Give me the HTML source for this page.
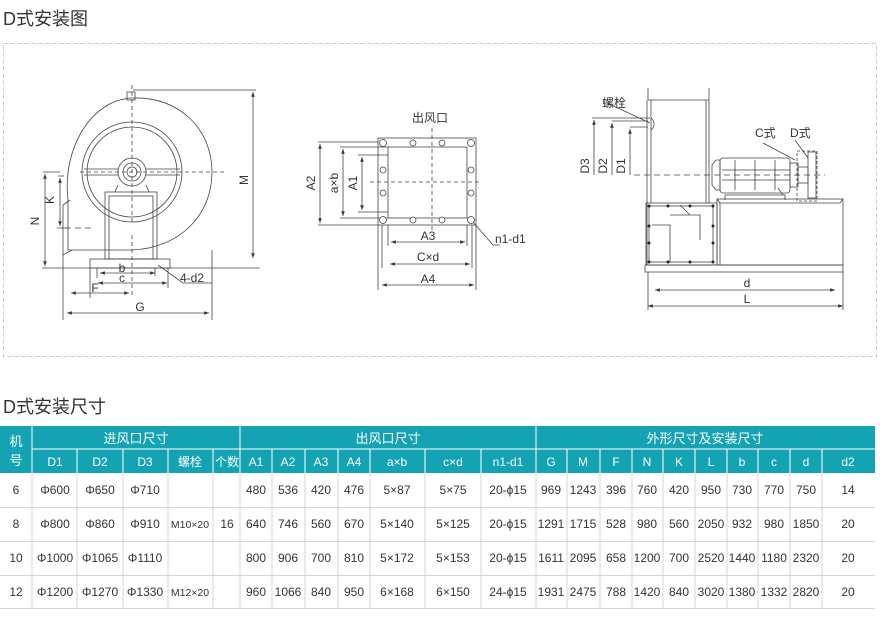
<!DOCTYPE html>
<html><head><meta charset="utf-8"><style>
html,body{margin:0;padding:0;background:#fff;}
svg{display:block;font-family:"Liberation Sans","Noto Sans CJK SC",sans-serif;}
</style></head><body>
<svg width="880" height="621" viewBox="0 0 880 621" xmlns="http://www.w3.org/2000/svg">
<defs>
<marker id="a" viewBox="0 0 8 6" refX="8" refY="3" markerWidth="6" markerHeight="5" orient="auto-start-reverse"><path d="M0,0L8,3L0,6z" fill="#333"/></marker>
</defs>
<text x="3" y="25" font-size="18" fill="#333">D式安装图</text>
<rect x="3.5" y="43.5" width="873" height="313" fill="none" stroke="#c8c8c8" stroke-dasharray="4,3"/>

<g stroke="#444" fill="none" stroke-width="0.8">
<!-- FAN front view -->
<path d="M68,250 L68,200 C62,150 90,100 132,98 C180,96 212,130 212,172 C212,215 180,248 132,250 Z"/>
<path d="M63,255 L63,205 L70,200 M63,255 L72,250"/>
<circle cx="132" cy="172" r="50"/>
<circle cx="132" cy="172" r="45"/>
<circle cx="132" cy="172" r="14"/>
<circle cx="132" cy="172" r="9"/>
<circle cx="132" cy="172" r="5"/>
<path d="M84,169 H118 M84,175 H118 M146,169 H180 M146,175 H180"/>
<path d="M118,185 L115,192 M146,185 L149,192"/>
<rect x="105" y="192" width="52" height="67"/>
<rect x="109" y="196" width="44" height="63"/>
<rect x="127" y="92" width="8" height="8"/>
<rect x="90" y="259" width="80" height="9"/>
<path d="M42,268 H260"/>
<path d="M132,85 V225 M132,235 V298" stroke-dasharray="4,3"/>
<path d="M80,172 H225" stroke-dasharray="4,3"/>
<path d="M65,228 H92" stroke-dasharray="6,4"/>
<path d="M133,90 H256 M43,172 H60 M58,176 H64 M57,228 H68"/>
<path d="M253,92 V258" marker-start="url(#a)" marker-end="url(#a)"/>
<path d="M45,174 V266" marker-start="url(#a)" marker-end="url(#a)"/>
<path d="M60,178 V226" marker-start="url(#a)" marker-end="url(#a)"/>
<path d="M97,268 V278 M155,268 V276 M168,268 V288 M90,268 V298 M63,255 V320 M212,250 V320"/>
<path d="M100,273 H155" marker-start="url(#a)" marker-end="url(#a)"/>
<path d="M98,283 H167" marker-start="url(#a)" marker-end="url(#a)"/>
<path d="M71,293 H129" marker-start="url(#a)" marker-end="url(#a)"/>
<path d="M67,313 H209" marker-start="url(#a)" marker-end="url(#a)"/>
<path d="M158,265 L183,283 H212"/>

<!-- OUTLET -->
<rect x="378" y="138" width="98" height="87"/>
<rect x="388" y="147" width="79" height="71"/>
<path d="M432,128 V232 M370,182 H480" stroke-dasharray="4,3"/>
<path d="M318,142 H378 M340,147 H388 M358,155 H388 M318,225 H378 M340,218 H388 M358,212 H388"/>
<path d="M320,144 V223" marker-start="url(#a)" marker-end="url(#a)"/>
<path d="M343,149 V216" marker-start="url(#a)" marker-end="url(#a)"/>
<path d="M362,157 V210" marker-start="url(#a)" marker-end="url(#a)"/>
<path d="M378,225 V290 M476,225 V290 M388,225 V246 M467,225 V246 M382,225 V268 M472,225 V268"/>
<path d="M391,242 H465" marker-start="url(#a)" marker-end="url(#a)"/>
<path d="M390,264 H470" marker-start="url(#a)" marker-end="url(#a)"/>
<path d="M382,285 H474" marker-start="url(#a)" marker-end="url(#a)"/>
<path d="M473,222 L493,245 H500"/>
<g fill="#fff">
<circle cx="383" cy="143" r="3.5"/><circle cx="413" cy="143" r="3"/><circle cx="442" cy="143" r="3"/><circle cx="471" cy="143" r="3.5"/>
<circle cx="383" cy="220" r="3.5"/><circle cx="413" cy="220" r="3"/><circle cx="442" cy="220" r="3"/><circle cx="471" cy="220" r="3.5"/>
<circle cx="383" cy="170" r="3"/><circle cx="383" cy="193" r="3"/><circle cx="471" cy="170" r="3"/><circle cx="471" cy="193" r="3"/>
</g>

<!-- SIDE VIEW -->
<path d="M647,100 V265 M651,100 V203 M706,100 V203 M709,88 V203 M648,100 H709 M648,88 V100"/>
<path d="M651,118 C656,122 654,128 651,130"/>
<path d="M592,118 H650 M612,121 H648 M630,127 H648 M607,103 L650,123"/>
<path d="M594,175 V120" marker-end="url(#a)"/>
<path d="M612,175 V123" marker-end="url(#a)"/>
<path d="M630,175 V129" marker-end="url(#a)"/>
<path d="M634,175 H825" stroke-dasharray="6,4"/>
<path d="M712,165 L716,160 H720 V190 H716 L712,185 Z"/>
<rect x="720" y="158" width="70" height="35" rx="3"/>
<path d="M722,170 H790 M722,180 H790 M735,160 V190 M755,160 V190 M775,160 V190"/>
<rect x="790" y="163" width="8" height="24"/>
<rect x="798" y="167" width="10" height="16"/>
<rect x="808" y="152" width="8" height="46"/>
<rect x="797" y="151" width="20" height="50" stroke-dasharray="3,2"/>
<path d="M725,195 H785 V200 M725,195 V200 M778,188 L783,195"/>
<path d="M763,143 L795,160 M795,140 L808,158"/>
<rect x="646" y="203" width="71" height="62"/>
<rect x="649" y="206" width="64" height="56"/>
<path d="M652,225 H670 V262 M670,215 H700 V240 M680,205 L690,215 M690,215 H700"/>
<rect x="717" y="199" width="126" height="66"/>
<path d="M720,203 H840 M720,203 V265 M717,199 L720,203 M843,199 L840,203"/>
<rect x="645" y="265" width="198" height="7"/>
<path d="M648,272 V310 M843,272 V310"/>
<path d="M655,290 H835" marker-start="url(#a)" marker-end="url(#a)"/>
<path d="M648,306 H843" marker-start="url(#a)" marker-end="url(#a)"/>
</g>
<g fill="#222">
<circle cx="649" cy="206" r="1.5"/><circle cx="668" cy="206" r="1.5"/><circle cx="690" cy="206" r="1.5"/><circle cx="713" cy="206" r="1.5"/>
<circle cx="649" cy="262" r="1.5"/><circle cx="668" cy="262" r="1.5"/><circle cx="690" cy="262" r="1.5"/><circle cx="713" cy="262" r="1.5"/>
<circle cx="649" cy="226" r="1.5"/><circle cx="649" cy="243" r="1.5"/><circle cx="713" cy="226" r="1.5"/><circle cx="713" cy="243" r="1.5"/>
</g>

<g fill="#333" font-size="12">
<text x="248" y="180" transform="rotate(-90 248 180)" text-anchor="middle">M</text>
<text x="42" y="221" transform="rotate(-90 42 221)" text-anchor="middle" dy="-3">N</text>
<text x="57" y="200" transform="rotate(-90 57 200)" text-anchor="middle" dy="-3">K</text>
<text x="122" y="272" text-anchor="middle">b</text>
<text x="122" y="282" text-anchor="middle">c</text>
<text x="95" y="292" text-anchor="middle">F</text>
<text x="140" y="311" text-anchor="middle">G</text>
<text x="180" y="282">4-d2</text>
<text x="430" y="122" text-anchor="middle">出风口</text>
<text x="318" y="183" transform="rotate(-90 318 183)" text-anchor="middle" dy="-3">A2</text>
<text x="341" y="183" transform="rotate(-90 341 183)" text-anchor="middle" dy="-3">a×b</text>
<text x="360" y="183" transform="rotate(-90 360 183)" text-anchor="middle" dy="-3">A1</text>
<text x="428" y="240" text-anchor="middle">A3</text>
<text x="428" y="261" text-anchor="middle">C×d</text>
<text x="428" y="283" text-anchor="middle">A4</text>
<text x="495" y="243">n1-d1</text>
<text x="602" y="107">螺栓</text>
<text x="592" y="166" transform="rotate(-90 592 166)" text-anchor="middle" dy="-3">D3</text>
<text x="610" y="166" transform="rotate(-90 610 166)" text-anchor="middle" dy="-3">D2</text>
<text x="628" y="166" transform="rotate(-90 628 166)" text-anchor="middle" dy="-3">D1</text>
<text x="755" y="137">C式</text>
<text x="790" y="137">D式</text>
<text x="747" y="287" text-anchor="middle">d</text>
<text x="747" y="303" text-anchor="middle">L</text>
</g>

<text x="3" y="413" font-size="18" fill="#333">D式安装尺寸</text>

<!-- TABLE -->
<rect x="0" y="426" width="875" height="47" fill="#14a3b3"/>
<g stroke="#fff" stroke-width="1">
<path d="M32,449 H875"/>
<path d="M32,426 V473 M240,426 V473 M536,426 V473"/>
<path d="M77,449 V473 M123,449 V473 M168,449 V473 M213,449 V473 M272,449 V473 M305,449 V473 M338,449 V473 M370,449 V473 M425,449 V473 M481,449 V473 M567,449 V473 M600,449 V473 M632,449 V473 M663,449 V473 M695,449 V473 M727,449 V473 M758,449 V473 M790,449 V473 M822,449 V473"/>
</g>
<g stroke="#d4d4d4" stroke-width="1">
<path d="M0,507.5 H875 M0,541.5 H875 M0,575.5 H875 M0,608.5 H875"/>
<path d="M32,473 V609 M77,473 V609 M123,473 V609 M168,473 V609 M213,473 V609 M240,473 V609 M272,473 V609 M305,473 V609 M338,473 V609 M370,473 V609 M425,473 V609 M481,473 V609 M536,473 V609 M567,473 V609 M600,473 V609 M632,473 V609 M663,473 V609 M695,473 V609 M727,473 V609 M758,473 V609 M790,473 V609 M822,473 V609"/>
</g>
<g fill="#fff" font-size="13" text-anchor="middle">
<text x="16" y="446">机</text><text x="16" y="465">号</text>
<text x="136" y="443">进风口尺寸</text>
<text x="388" y="443">出风口尺寸</text>
<text x="705" y="443">外形尺寸及安装尺寸</text>
<g font-size="12">
<text x="55" y="466">D1</text><text x="100" y="466">D2</text><text x="145" y="466">D3</text><text x="190" y="466">螺栓</text><text x="227" y="466">个数</text>
<text x="256" y="466">A1</text><text x="288" y="466">A2</text><text x="321" y="466">A3</text><text x="354" y="466">A4</text><text x="397" y="466">a×b</text><text x="453" y="466">c×d</text><text x="508" y="466">n1-d1</text>
<text x="551" y="466">G</text><text x="583" y="466">M</text><text x="616" y="466">F</text><text x="647" y="466">N</text><text x="679" y="466">K</text><text x="711" y="466">L</text><text x="742" y="466">b</text><text x="774" y="466">c</text><text x="806" y="466">d</text><text x="848" y="466">d2</text>
</g>
</g>
<g fill="#333" font-size="12" text-anchor="middle">
<g transform="translate(0,494)">
<text x="16">6</text><text x="55">Φ600</text><text x="100">Φ650</text><text x="145">Φ710</text>
<text x="256">480</text><text x="288">536</text><text x="321">420</text><text x="354">476</text><text x="397">5×87</text><text x="453">5×75</text><text x="508">20-ϕ15</text>
<text x="551">969</text><text x="583">1243</text><text x="616">396</text><text x="647">760</text><text x="679">420</text><text x="711">950</text><text x="742">730</text><text x="774">770</text><text x="806">750</text><text x="848">14</text>
</g>
<g transform="translate(0,528)">
<text x="16">8</text><text x="55">Φ800</text><text x="100">Φ860</text><text x="145">Φ910</text><text x="190" font-size="10.5">M10×20</text><text x="227">16</text>
<text x="256">640</text><text x="288">746</text><text x="321">560</text><text x="354">670</text><text x="397">5×140</text><text x="453">5×125</text><text x="508">20-ϕ15</text>
<text x="551">1291</text><text x="583">1715</text><text x="616">528</text><text x="647">980</text><text x="679">560</text><text x="711">2050</text><text x="742">932</text><text x="774">980</text><text x="806">1850</text><text x="848">20</text>
</g>
<g transform="translate(0,562)">
<text x="16">10</text><text x="55">Φ1000</text><text x="100">Φ1065</text><text x="145">Φ1110</text>
<text x="256">800</text><text x="288">906</text><text x="321">700</text><text x="354">810</text><text x="397">5×172</text><text x="453">5×153</text><text x="508">20-ϕ15</text>
<text x="551">1611</text><text x="583">2095</text><text x="616">658</text><text x="647">1200</text><text x="679">700</text><text x="711">2520</text><text x="742">1440</text><text x="774">1180</text><text x="806">2320</text><text x="848">20</text>
</g>
<g transform="translate(0,596)">
<text x="16">12</text><text x="55">Φ1200</text><text x="100">Φ1270</text><text x="145">Φ1330</text><text x="190" font-size="10.5">M12×20</text>
<text x="256">960</text><text x="288">1066</text><text x="321">840</text><text x="354">950</text><text x="397">6×168</text><text x="453">6×150</text><text x="508">24-ϕ15</text>
<text x="551">1931</text><text x="583">2475</text><text x="616">788</text><text x="647">1420</text><text x="679">840</text><text x="711">3020</text><text x="742">1380</text><text x="774">1332</text><text x="806">2820</text><text x="848">20</text>
</g>
</g>
</svg>
</body></html>
